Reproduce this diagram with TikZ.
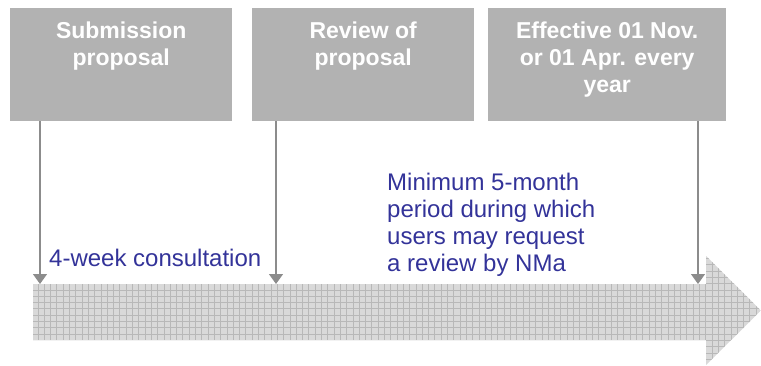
\documentclass[tikz,border=0pt]{standalone}
\usepackage{fontspec}
\setmainfont{Liberation Sans}
\usepackage{tikz}
\usetikzlibrary{positioning,arrows.meta}
\usepackage{xcolor}
\definecolor{navytext}{RGB}{51,51,153}

\begin{document}
\begin{tikzpicture}[x=1pt,y=-1pt,>={Triangle[width=14pt,length=10pt]},
  phase/.style={fill=black!30,draw=none,minimum height=113pt,inner sep=0pt,anchor=north west},
  phasetext/.style={text=white,align=center,inner sep=0pt,anchor=north,font=\fontsize{23}{27}\selectfont\bfseries},
  note/.style={text=navytext,align=left,inner sep=0pt,anchor=base west,font=\fontsize{24}{27}\selectfont},
  link/.style={->,draw=black!45,line width=1.2pt}]
\useasboundingbox (0,0) rectangle (761,365);

% the timeline arrow, filled with a fine grid
\begin{scope}
\clip (33,284) -- (706,284) -- (706,256) -- (761,310.5) -- (706,365) -- (706,340) -- (33,340) -- cycle;
\fill[black!15] (33,250) rectangle (761,365);
\draw[black!28,line width=0.6pt] (33,250) grid[step=6.3pt] (761,365);
\end{scope}
\coordinate (t1) at (40,284);
\coordinate (t2) at (276,284);
\coordinate (t3) at (698,284);

% phase boxes
\node[phase,minimum width=222pt] (sub) at (10,8) {};
\node[phase,minimum width=222pt] (rev) at (252,8) {};
\node[phase,minimum width=238pt] (eff) at (488,8) {};
\node[phasetext] (subtxt) at ([yshift=-14pt]sub.north) {Submission\\proposal};
\node[phasetext] (revtxt) at ([yshift=-14pt]rev.north) {Review of\\proposal};
\node[phasetext] (efftxt) at ([yshift=-14pt]eff.north) {Effective 01 Nov.\\or 01 Apr. every\\year};

% drop lines onto the timeline
\draw[link] (t1 |- sub.south) -- (t1);
\draw[link] (t2 |- rev.south) -- (t2);
\draw[link] (t3 |- eff.south) -- (t3);

\node[note] (consult) at (49,266) {4-week consultation};
\node[note] (period) at (387,271) {Minimum 5-month\\period during which\\users may request\\a review by NMa};
\end{tikzpicture}
\end{document}
